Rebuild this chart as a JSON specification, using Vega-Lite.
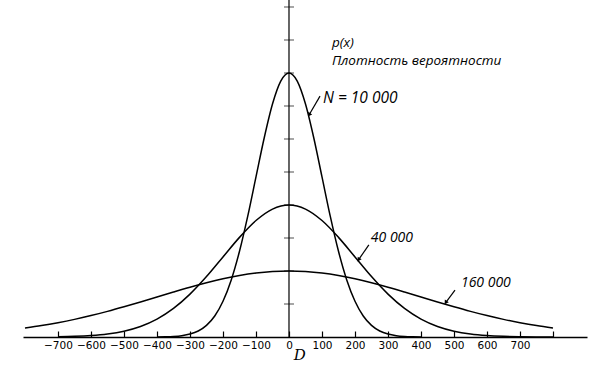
{
  "$schema": "https://vega.github.io/schema/vega-lite/v6.json",
  "width": 564,
  "height": 337,
  "autosize": "none",
  "padding": {"left": 23, "top": 0, "right": 13, "bottom": 29},
  "background": "white",
  "config": {"view": {"stroke": null}},
  "datasets": {
    "curves": [
      {"series": "10000", "x": -400, "y": 0.0027},
      {"series": "10000", "x": -375, "y": 0.0071},
      {"series": "10000", "x": -350, "y": 0.0175},
      {"series": "10000", "x": -325, "y": 0.0407},
      {"series": "10000", "x": -300, "y": 0.089},
      {"series": "10000", "x": -275, "y": 0.182},
      {"series": "10000", "x": -250, "y": 0.352},
      {"series": "10000", "x": -225, "y": 0.636},
      {"series": "10000", "x": -200, "y": 1.083},
      {"series": "10000", "x": -175, "y": 1.730},
      {"series": "10000", "x": -150, "y": 2.597},
      {"series": "10000", "x": -125, "y": 3.662},
      {"series": "10000", "x": -100, "y": 4.852},
      {"series": "10000", "x": -75, "y": 6.038},
      {"series": "10000", "x": -50, "y": 7.060},
      {"series": "10000", "x": -25, "y": 7.754},
      {"series": "10000", "x": 0, "y": 8.0},
      {"series": "10000", "x": 25, "y": 7.754},
      {"series": "10000", "x": 50, "y": 7.060},
      {"series": "10000", "x": 75, "y": 6.038},
      {"series": "10000", "x": 100, "y": 4.852},
      {"series": "10000", "x": 125, "y": 3.662},
      {"series": "10000", "x": 150, "y": 2.597},
      {"series": "10000", "x": 175, "y": 1.730},
      {"series": "10000", "x": 200, "y": 1.083},
      {"series": "10000", "x": 225, "y": 0.636},
      {"series": "10000", "x": 250, "y": 0.352},
      {"series": "10000", "x": 275, "y": 0.182},
      {"series": "10000", "x": 300, "y": 0.089},
      {"series": "10000", "x": 325, "y": 0.0407},
      {"series": "10000", "x": 350, "y": 0.0175},
      {"series": "10000", "x": 375, "y": 0.0071},
      {"series": "10000", "x": 400, "y": 0.0027},
      {"series": "40000", "x": -700, "y": 0.0087},
      {"series": "40000", "x": -650, "y": 0.020},
      {"series": "40000", "x": -600, "y": 0.044},
      {"series": "40000", "x": -550, "y": 0.091},
      {"series": "40000", "x": -500, "y": 0.176},
      {"series": "40000", "x": -450, "y": 0.318},
      {"series": "40000", "x": -400, "y": 0.541},
      {"series": "40000", "x": -350, "y": 0.865},
      {"series": "40000", "x": -300, "y": 1.299},
      {"series": "40000", "x": -250, "y": 1.831},
      {"series": "40000", "x": -200, "y": 2.426},
      {"series": "40000", "x": -150, "y": 3.019},
      {"series": "40000", "x": -100, "y": 3.530},
      {"series": "40000", "x": -50, "y": 3.877},
      {"series": "40000", "x": 0, "y": 4.0},
      {"series": "40000", "x": 50, "y": 3.877},
      {"series": "40000", "x": 100, "y": 3.530},
      {"series": "40000", "x": 150, "y": 3.019},
      {"series": "40000", "x": 200, "y": 2.426},
      {"series": "40000", "x": 250, "y": 1.831},
      {"series": "40000", "x": 300, "y": 1.299},
      {"series": "40000", "x": 350, "y": 0.865},
      {"series": "40000", "x": 400, "y": 0.541},
      {"series": "40000", "x": 450, "y": 0.318},
      {"series": "40000", "x": 500, "y": 0.176},
      {"series": "40000", "x": 550, "y": 0.091},
      {"series": "40000", "x": 600, "y": 0.044},
      {"series": "40000", "x": 650, "y": 0.020},
      {"series": "40000", "x": 700, "y": 0.0087},
      {"series": "40000", "x": 750, "y": 0.0035},
      {"series": "40000", "x": 800, "y": 0.0013},
      {"series": "160000", "x": -800, "y": 0.271},
      {"series": "160000", "x": -750, "y": 0.345},
      {"series": "160000", "x": -700, "y": 0.433},
      {"series": "160000", "x": -650, "y": 0.534},
      {"series": "160000", "x": -600, "y": 0.649},
      {"series": "160000", "x": -550, "y": 0.777},
      {"series": "160000", "x": -500, "y": 0.916},
      {"series": "160000", "x": -450, "y": 1.062},
      {"series": "160000", "x": -400, "y": 1.213},
      {"series": "160000", "x": -350, "y": 1.364},
      {"series": "160000", "x": -300, "y": 1.510},
      {"series": "160000", "x": -250, "y": 1.645},
      {"series": "160000", "x": -200, "y": 1.765},
      {"series": "160000", "x": -150, "y": 1.864},
      {"series": "160000", "x": -100, "y": 1.938},
      {"series": "160000", "x": -50, "y": 1.984},
      {"series": "160000", "x": 0, "y": 2.0},
      {"series": "160000", "x": 50, "y": 1.984},
      {"series": "160000", "x": 100, "y": 1.938},
      {"series": "160000", "x": 150, "y": 1.864},
      {"series": "160000", "x": 200, "y": 1.765},
      {"series": "160000", "x": 250, "y": 1.645},
      {"series": "160000", "x": 300, "y": 1.510},
      {"series": "160000", "x": 350, "y": 1.364},
      {"series": "160000", "x": 400, "y": 1.213},
      {"series": "160000", "x": 450, "y": 1.062},
      {"series": "160000", "x": 500, "y": 0.916},
      {"series": "160000", "x": 550, "y": 0.777},
      {"series": "160000", "x": 600, "y": 0.649},
      {"series": "160000", "x": 650, "y": 0.534},
      {"series": "160000", "x": 700, "y": 0.433},
      {"series": "160000", "x": 750, "y": 0.345},
      {"series": "160000", "x": 800, "y": 0.271}
    ],
    "vaxis": [
      {"x": 0, "y": 0, "y2": 10.212}
    ],
    "yticks": [
      {"x": 0, "y": 1}, {"x": 0, "y": 2}, {"x": 0, "y": 3}, {"x": 0, "y": 4}, {"x": 0, "y": 5},
      {"x": 0, "y": 6}, {"x": 0, "y": 7}, {"x": 0, "y": 8}, {"x": 0, "y": 9}, {"x": 0, "y": 10}
    ],
    "labels": [
      {"text": "p(x)", "x": 130, "y": 8.91, "kind": "a"},
      {"text": "Плотность вероятности", "x": 130, "y": 8.36, "kind": "a"},
      {"text": "N = 10 000", "x": 103, "y": 7.24, "kind": "b"},
      {"text": "40 000", "x": 248, "y": 3.0, "kind": "c"},
      {"text": "160 000", "x": 521, "y": 1.64, "kind": "c"}
    ],
    "arrows": [
      {"x": 62, "y": 6.75, "x2": 94, "y2": 7.30},
      {"x": 212, "y": 2.36, "x2": 242, "y2": 2.79},
      {"x": 476, "y": 1.06, "x2": 503, "y2": 1.42}
    ]
  },
  "encoding": {
    "x": {
      "field": "x", "type": "quantitative",
      "scale": {"domain": [-806, 903], "nice": false, "zero": false},
      "axis": {
        "title": null, "grid": false,
        "values": [-700, -600, -500, -400, -300, -200, -100, 0, 100, 200, 300, 400, 500, 600, 700, 800],
        "labelExpr": "datum.value == 800 ? '' : datum.label",
        "format": "d",
        "labelOverlap": false,
        "labelBound": false,
        "tickSize": -6, "tickColor": "black", "tickWidth": 1.2, "domainColor": "black", "domainWidth": 1.5,
        "labelFont": "DejaVu Sans", "labelFontSize": 10.5, "labelColor": "black",
        "labelPadding": 9
      }
    },
    "y": {
      "field": "y", "type": "quantitative",
      "scale": {"domain": [0, 10.212], "nice": false},
      "axis": null
    }
  },
  "layer": [
    {
      "data": {"name": "curves"},
      "mark": {"type": "line", "interpolate": "monotone", "color": "black", "strokeWidth": 1.5},
      "encoding": {"detail": {"field": "series"}}
    },
    {
      "data": {"name": "vaxis"},
      "mark": {"type": "rule", "color": "black", "strokeWidth": 1.2},
      "encoding": {"y2": {"field": "y2"}}
    },
    {
      "data": {"name": "yticks"},
      "mark": {"type": "tick", "orient": "horizontal", "color": "black", "size": 10, "thickness": 1},
      "encoding": {}
    },
    {
      "data": {"name": "arrows"},
      "mark": {"type": "rule", "color": "black", "strokeWidth": 1.2},
      "encoding": {"x2": {"field": "x2"}, "y2": {"field": "y2"}}
    },
    {
      "data": {"name": "arrows"},
      "mark": {"type": "point", "shape": "triangle", "filled": true, "color": "black", "size": 22, "angle": 213, "opacity": 1},
      "encoding": {}
    },
    {
      "data": {"name": "labels"},
      "mark": {"type": "text", "align": "left", "baseline": "middle", "font": "Open Sans", "fontStyle": "italic", "color": "black"},
      "encoding": {
        "text": {"field": "text"},
        "size": {"field": "kind", "type": "nominal", "scale": {"type": "ordinal", "domain": ["a", "b", "c"], "range": [13.5, 15.5, 14]}, "legend": null}
      }
    },
    {
      "data": {"values": [{"text": "D", "x": 33, "y": -0.55}]},
      "mark": {"type": "text", "align": "center", "baseline": "middle", "font": "DejaVu Serif", "fontStyle": "italic", "fontSize": 15, "color": "black", "clip": false},
      "encoding": {"text": {"field": "text"}}
    }
  ]
}
